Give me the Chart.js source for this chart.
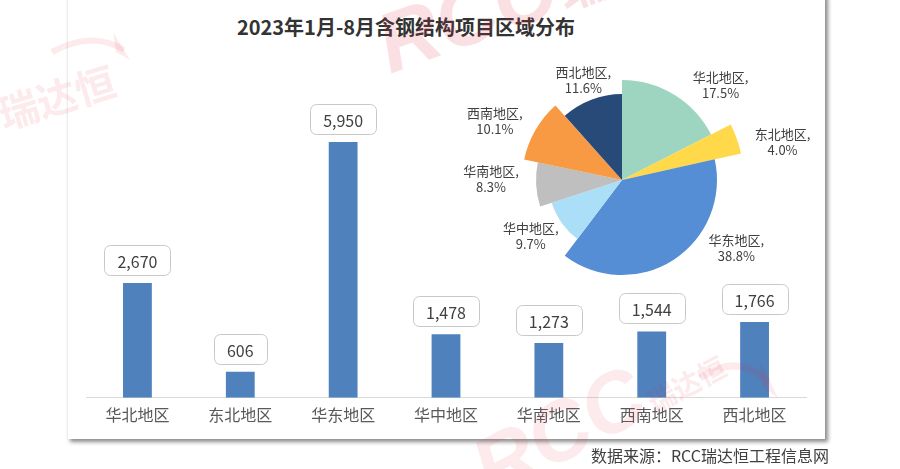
<!DOCTYPE html>
<html>
<head>
<meta charset="utf-8">
<script src="https://cdn.jsdelivr.net/npm/chart.js@4.4.0/dist/chart.umd.min.js"></script>
<style>
  body { margin: 0; background: #fff; width: 900px; height: 469px; overflow: hidden; position: relative; font-family: "Noto Sans CJK SC", sans-serif; }
  #card { position: absolute; left: 67px; top: -6px; width: 757px; height: 445px; background: #fff; border-left: 1px solid #ececec; box-shadow: 3px 3px 4px rgba(0,0,0,0.45); }
  #bars { position: absolute; left: 0; top: 0; }
  #pie { position: absolute; left: 422px; top: 50px; }
  #title { position: absolute; left: 0; width: 812px; top: 15px; line-height: 24px; text-align: center; font-weight: bold; font-size: 20px; color: #333; }
  #source { position: absolute; right: 71px; top: 445px; line-height: 20px; font-size: 16px; color: #404040; }
  #wm { position: absolute; left: 0; top: 0; pointer-events: none; }
</style>
</head>
<body>
<div id="card"></div>
<div id="title">2023年1月-8月含钢结构项目区域分布</div>
<canvas id="bars" width="900" height="469"></canvas>
<canvas id="pie" width="400" height="260"></canvas>
<div id="source">数据来源：RCC瑞达恒工程信息网</div>

<!-- watermark -->
<svg id="wm" width="900" height="469">
  <g fill="rgba(222,50,65,0.15)">
    <text transform="translate(390,74) rotate(-20)" font-family="Liberation Sans" font-weight="bold" font-style="italic" font-size="84">RCC<tspan font-family="Noto Sans CJK SC" font-style="normal" font-size="50" dx="4">瑞达恒</tspan></text>
  </g>
  <g fill="rgba(222,50,65,0.10)">
    <text transform="translate(492,500) rotate(-28)" font-family="Liberation Sans" font-weight="bold" font-style="italic" font-size="84">RCC<tspan font-family="Noto Sans CJK SC" font-style="normal" font-size="28" dx="2">瑞达恒</tspan></text>
    <text transform="translate(-30,140) rotate(-17)" font-family="Noto Sans CJK SC" font-weight="bold" font-size="40">C 瑞达恒</text>
    <path d="M52,52 Q92,30 124,50" stroke="rgba(222,50,65,0.10)" stroke-width="6" fill="none"/>
    <polygon points="113,32 130,60 116,52"/>
    <path d="M700,378 Q738,352 768,382" stroke="rgba(222,50,65,0.10)" stroke-width="7" fill="none"/>
    <polygon points="760,360 778,398 762,386"/>
  </g>
</svg>

<script>
// categories and values
const regions = ['华北地区', '东北地区', '华东地区', '华中地区', '华南地区', '西南地区', '西北地区'];
const projectCounts = [2670, 606, 5950, 1478, 1273, 1544, 1766];
const pieShares = [17.5, 4.0, 38.8, 9.7, 8.3, 10.1, 11.6];

// styling
const barColor = '#4f81bd';
const pieColors = ['#9dd5c0', '#ffd94a', '#558ed5', '#aadff7', '#bfbfbf', '#f79a43', '#284a78'];
const pieBase = 100;
const sliceRadius = [1.0, 1.22, 0.95, 0.74, 0.86, 1.0, 0.86];
// label placement: turn from bisector (deg), distance beyond slice edge (px)
const labelTurn = [14.5, 6.5, -26.5, 4, 3.4, -5.3, -0.3];
const labelGap = [37, 43, 38, 33, 45, 40, 21];

const valueBoxes = {
  id: 'valueBoxes',
  afterDatasetsDraw(chart) {
    const ctx = chart.ctx;
    const meta = chart.getDatasetMeta(0);
    ctx.save();
    ctx.font = '16px "Noto Sans CJK SC"';
    ctx.textAlign = 'center';
    ctx.textBaseline = 'middle';
    meta.data.forEach((bar, i) => {
      const txt = projectCounts[i].toLocaleString('en-US');
      const w = Math.round(ctx.measureText(txt).width + 26);
      const h = 30;
      const bx = Math.round(bar.x - w / 2) + 0.5;
      const by = Math.round(bar.y - 8 - h) + 0.5;
      ctx.beginPath();
      ctx.roundRect(bx, by, w, h, 6);
      ctx.fillStyle = '#fff';
      ctx.fill();
      ctx.strokeStyle = '#c8c8c8';
      ctx.lineWidth = 1;
      ctx.stroke();
      ctx.fillStyle = '#404040';
      ctx.fillText(txt, bar.x, by + h / 2 + 1);
    });
    ctx.restore();
  }
};

new Chart(document.getElementById('bars'), {
  type: 'bar',
  data: {
    labels: regions,
    datasets: [{
      data: projectCounts,
      backgroundColor: barColor,
      categoryPercentage: 1,
      barPercentage: 0.28
    }]
  },
  options: {
    responsive: false,
    animation: false,
    layout: { padding: { left: 86, right: 94, top: 97, bottom: 36 } },
    plugins: { legend: { display: false }, tooltip: { enabled: false } },
    scales: {
      x: {
        grid: { display: false, drawTicks: false },
        border: { color: '#d9d9d9', width: 1 },
        ticks: { color: '#595959', padding: 8, font: { size: 16, family: '"Noto Sans CJK SC"' } }
      },
      y: { display: false, min: 0, max: 7000 }
    }
  },
  plugins: [valueBoxes]
});

const sliceShape = {
  id: 'sliceShape',
  afterDatasetsUpdate(chart) {
    chart.getDatasetMeta(0).data.forEach((arc, i) => {
      arc.outerRadius = pieBase * sliceRadius[i];
    });
  },
  afterDatasetsDraw(chart) {
    const ctx = chart.ctx;
    ctx.save();
    ctx.font = '13px "Noto Sans CJK SC"';
    ctx.fillStyle = '#404040';
    ctx.textAlign = 'center';
    ctx.textBaseline = 'middle';
    chart.getDatasetMeta(0).data.forEach((arc, i) => {
      const mid = (arc.startAngle + arc.endAngle) / 2 + labelTurn[i] * Math.PI / 180;
      const r = pieBase * sliceRadius[i] + labelGap[i];
      const x = arc.x + r * Math.cos(mid);
      const y = arc.y + r * Math.sin(mid);
      ctx.fillText(regions[i] + ',', x, y - 8);
      ctx.fillText(pieShares[i].toFixed(1) + '%', x, y + 8);
    });
    ctx.restore();
  }
};

new Chart(document.getElementById('pie'), {
  type: 'pie',
  data: {
    labels: regions,
    datasets: [{
      data: pieShares,
      backgroundColor: pieColors,
      borderWidth: 0
    }]
  },
  options: {
    responsive: false,
    animation: false,
    radius: pieBase,
    plugins: { legend: { display: false }, tooltip: { enabled: false } }
  },
  plugins: [sliceShape]
});
</script>
</body>
</html>
